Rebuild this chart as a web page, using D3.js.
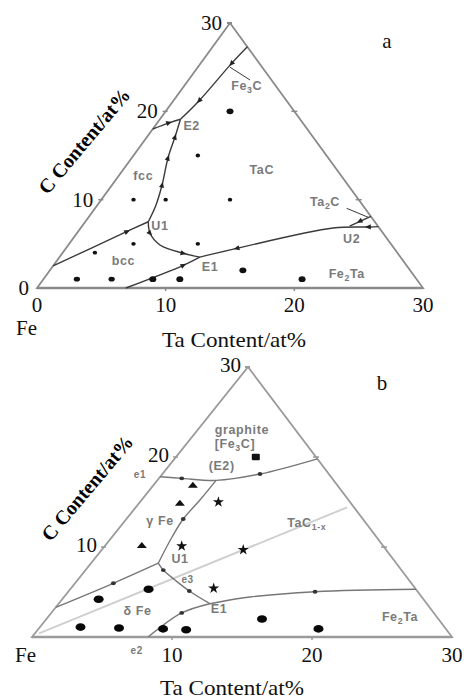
<!DOCTYPE html>
<html><head><meta charset="utf-8">
<script src="https://cdn.jsdelivr.net/npm/d3@7"></script>
<style>
html,body{margin:0;padding:0;background:#fff;}
svg{display:block;}
</style></head><body>
<svg id="chart" width="464" height="699"></svg>
<script>
// ================= DATA =================
const axisMax = 30;
const taTicksA = [0, 10, 20, 30];
const cTicksA = [0, 10, 20, 30];
const taTicksB = [10, 20, 30];
const cTicksB = [10, 20, 30];
const edgeTickValues = [10, 20];

// chart a: boundary curves, points are [Ta at%, C at%]
const curvesA = [
  [[0, 2.5], [3.8, 6.4], [4.9, 7.5]],
  [[4.9, 7.5], [4.55, 9.4], [3.89, 11.66], [2.82, 14.72], [2.18, 17.09], [1.6, 19.1]],
  [[0, 18], [0.9, 18.7], [1.6, 19.1]],
  [[1.6, 19.1], [2.0, 21.2], [2.41, 25.4], [2.7, 27.3]],
  [[4.9, 7.5], [5.69, 6.19], [7.12, 4.87], [9.4, 3.93], [10.9, 3.5]],
  [[6.9, 0], [10.09, 2.57], [10.9, 3.5]],
  [[10.9, 3.5], [13.28, 4.49], [19.63, 6.79], [22.43, 6.91], [23.05, 6.95]],
  [[20.8, 7.0], [21.9, 8.1]]
];
const leadersA = [
  [[2.5, 25.0], [4.78, 23.55]],
  [[19.56, 9.02], [21.75, 8.0]]
];
// arrows: [at, toward]
const arrowsA = [
  [[3.8, 6.4], [4.9, 7.5]],
  [[3.89, 11.66], [2.82, 14.72]],
  [[2.82, 14.72], [2.18, 17.09]],
  [[2.18, 17.09], [1.6, 19.1]],
  [[0.9, 18.7], [1.6, 19.1]],
  [[2.0, 21.2], [1.6, 19.1]],
  [[2.41, 25.4], [2.0, 21.2]],
  [[5.69, 6.19], [7.12, 4.87]],
  [[9.4, 3.93], [10.9, 3.5]],
  [[10.09, 2.57], [10.9, 3.5]],
  [[13.28, 4.49], [10.9, 3.5]],
  [[21.3, 7.55], [20.8, 7.0]],
  [[22.28, 6.92], [20.8, 6.9]]
];
// sample compositions, chart a
const samplesTaA = [2.6, 5.3, 8.5, 10.6, 20.1, 15, 2.5, 5, 10, 2.5, 5, 10, 5, 5];
const samplesCA  = [1, 1, 1, 1, 1, 2, 4, 5, 5, 10, 10, 10, 15, 20];
const samplesKindA = ['m', 'm', 'l', 'l', 'l', 'l', 's', 's', 's', 's', 's', 's', 's', 'l'];
const labelsA = [
  ['Fe{3}C', 4.86, 22.87], ['E2', 2.85, 18.34], ['fcc', 1.92, 12.68], ['TaC', 10.79, 13.36],
  ['U1', 6.03, 7.05], ['bcc', 5.18, 3.06], ['E1', 12.24, 2.41], ['Ta{2}C', 17.5, 9.77],
  ['U2', 21.64, 5.63], ['Fe{2}Ta', 23.24, 1.66]
];

// chart b
const curvesB = [
  [[0, 17.8], [1.63, 17.63], [4.2, 17.4], [6.97, 18.11], [10.2, 19.8]],
  [[4.2, 17.4], [4.17, 15.22], [4.06, 13.11], [4.29, 11.11], [4.8, 8.2]],
  [[0, 3.3], [2.74, 5.97], [4.8, 8.2]],
  [[4.8, 8.2], [5.55, 7.44], [6.96, 6.33], [8.61, 5.11], [10.8, 3.7]],
  [[8.3, 0], [9.32, 2.67], [10.8, 3.7]],
  [[10.8, 3.7], [13.29, 4.44], [17.63, 5.03], [24.7, 5.3]]
];
const tieLineB = [[0.3, 0.4], [15.1, 14.4]];
const lineDotsB = [[1.63, 17.63], [6.97, 18.11], [4.06, 13.11], [2.74, 5.97], [5.55, 7.44], [8.61, 5.11], [9.32, 2.67], [17.63, 5.03]];
const triSamplesB = [[2.8, 16.9], [2.9, 14.9], [2.6, 10.2]];
const starSamplesB = [[5.6, 15.0], [10.1, 9.7], [10.2, 5.4], [5.5, 10.1]];
const circleSamplesB = [[5.6, 5.3], [2.6, 4.2], [2.9, 1.1], [5.7, 1.0], [8.9, 0.9], [10.6, 0.8], [15.4, 2.0], [20, 0.9]];
const squareSamplesB = [[5.7, 20]];
const labelsB = [
  ['graphite', 3.11, 23.11], ['[Fe{3}C]', 3.43, 21.52], ['(E2)', 3.72, 19.11], ['e1', -1.64, 18.19],
  ['γ Fe', 2.46, 13], ['U1', 6.08, 8.74], ['e3', 7.76, 6.52], ['E1', 11.73, 3.17],
  ['δ Fe', 6.05, 2.89], ['TaC{1-x}', 13.09, 12.7], ['Fe{2}Ta', 25.1, 2.3], ['e2', 8.18, -1.37]
];
const axisTitleTa = 'Ta Content/at%';
const axisTitleC = 'C Content/at%';
const cornerLabel = 'Fe';

// ================= DRAWING =================
const svg = d3.select('#chart');
const serif = "'Liberation Serif','Times New Roman',Times,serif";
const sans = "'Liberation Sans',Arial,Helvetica,sans-serif";

function rich(sel, str) {
  const parts = str.split(/(\{[^}]*\})/).filter(s => s.length);
  let sub = false;
  parts.forEach(p => {
    if (p.startsWith('{')) {
      sel.append('tspan').attr('dy', 3).attr('font-size', '70%').text(p.slice(1, -1));
      sub = true;
    } else {
      const t = sel.append('tspan').text(p);
      if (sub) { t.attr('dy', -3); sub = false; }
    }
  });
}

function makeTernary(cfg) {
  const xT = d3.scaleLinear().domain([0, axisMax]).range([cfg.fe[0], cfg.right[0]]);
  const cY = d3.scaleLinear().domain([0, axisMax]).range([cfg.fe[1], cfg.apex[1]]);
  const cX = d3.scaleLinear().domain([0, axisMax]).range([0, cfg.apex[0] - cfg.fe[0]]);
  return d => [xT(d[0]) + cX(d[1]), cY(d[1])];
}

function drawChart(cfg) {
  const P = makeTernary(cfg);
  const g = svg.append('g');
  const line = d3.line().x(d => P(d)[0]).y(d => P(d)[1]);
  const curve = d3.line().x(d => P(d)[0]).y(d => P(d)[1]).curve(d3.curveCatmullRom.alpha(0.5));

  if (cfg.tie) {
    g.append('path').attr('d', line(cfg.tie)).attr('fill', 'none')
      .attr('stroke', '#cfcfcf').attr('stroke-width', 2);
  }

  g.append('path')
    .attr('d', line([[0, 0], [axisMax, 0], [0, axisMax]]) + 'Z')
    .attr('fill', 'none').attr('stroke', cfg.frameColor).attr('stroke-width', cfg.frameWidth)
    .attr('stroke-linejoin', 'miter');
  g.append('path').attr('d', line([[0, 0], [axisMax, 0]]))
    .attr('stroke', cfg.frameColor).attr('stroke-width', cfg.frameWidth + 0.6);

  edgeTickValues.forEach(v => {
    const b = P([v, 0]);
    g.append('line').attr('x1', b[0]).attr('x2', b[0]).attr('y1', b[1]).attr('y2', b[1] + 3)
      .attr('stroke', cfg.frameColor).attr('stroke-width', 1.5);
    const l = P([0, v]);
    g.append('line').attr('x1', l[0] - 3).attr('x2', l[0] + 2).attr('y1', l[1]).attr('y2', l[1])
      .attr('stroke', cfg.frameColor).attr('stroke-width', 1.5);
    const r = P([axisMax - v, v]);
    g.append('line').attr('x1', r[0] - 3).attr('x2', r[0] + 3).attr('y1', r[1]).attr('y2', r[1])
      .attr('stroke', cfg.frameColor).attr('stroke-width', 1.5);
  });
  const ap = P([0, axisMax]);
  g.append('line').attr('x1', ap[0] - 3).attr('x2', ap[0] + 2).attr('y1', ap[1]).attr('y2', ap[1])
    .attr('stroke', cfg.frameColor).attr('stroke-width', 2);

  cfg.curves.forEach(c => {
    g.append('path').attr('d', curve(c)).attr('fill', 'none')
      .attr('stroke', cfg.curveColor).attr('stroke-width', cfg.curveWidth);
  });
  (cfg.leaders || []).forEach(c => {
    g.append('path').attr('d', line(c)).attr('fill', 'none')
      .attr('stroke', cfg.curveColor).attr('stroke-width', 1);
  });

  (cfg.arrows || []).forEach(([a, b]) => {
    const p = P(a), q = P(b);
    const ang = Math.atan2(q[1] - p[1], q[0] - p[0]) * 180 / Math.PI;
    g.append('path').attr('d', 'M3.2,0 L-2.6,-2.6 L-2.6,2.6 Z')
      .attr('transform', `translate(${p[0]},${p[1]}) rotate(${ang})`).attr('fill', '#222');
  });
  (cfg.lineDots || []).forEach(d => {
    const p = P(d);
    g.append('ellipse').attr('cx', p[0]).attr('cy', p[1]).attr('rx', 2.4).attr('ry', 1.9).attr('fill', '#333');
  });

  if (cfg.samplesTa) {
    const rx = { s: 2.2, m: 3.1, l: 3.5 }, ry = { s: 1.9, m: 2.4, l: 2.9 };
    cfg.samplesTa.forEach((t, i) => {
      const p = P([t, cfg.samplesC[i]]);
      const k = cfg.samplesKind[i];
      g.append('ellipse').attr('cx', p[0]).attr('cy', p[1]).attr('rx', rx[k]).attr('ry', ry[k]).attr('fill', '#111');
    });
  }
  (cfg.circles || []).forEach(d => {
    const p = P(d);
    g.append('ellipse').attr('cx', p[0]).attr('cy', p[1]).attr('rx', 5).attr('ry', 3.8).attr('fill', '#080808');
  });
  (cfg.tris || []).forEach(d => {
    const p = P(d);
    g.append('path').attr('d', 'M-5,2.8 L5,2.8 L0,-3.2 Z')
      .attr('transform', `translate(${p[0]},${p[1]})`).attr('fill', '#111');
  });
  (cfg.stars || []).forEach(d => {
    const p = P(d);
    g.append('path').attr('d', d3.symbol().type(d3.symbolStar).size(38)())
      .attr('transform', `translate(${p[0]},${p[1]})`).attr('fill', '#111');
  });
  (cfg.squares || []).forEach(d => {
    const p = P(d);
    g.append('rect').attr('x', p[0] - 4).attr('y', p[1] - 3.2).attr('width', 8).attr('height', 6.4)
      .attr('rx', 1).attr('fill', '#111');
  });

  cfg.labels.forEach(([txt, t, c]) => {
    const p = P([t, c]);
    const small = (txt.length <= 2 && /^e/.test(txt));
    const el = g.append('text').attr('x', p[0]).attr('y', p[1] + 4.5)
      .attr('text-anchor', 'middle').attr('font-family', sans)
      .attr('font-size', small ? 10 : 12.5).attr('font-weight', 'bold')
      .attr('letter-spacing', 0.6)
      .attr('fill', '#7a7a7a');
    rich(el, txt);
  });

  cfg.bottomTicks.forEach(v => {
    const p = P([v, 0]);
    g.append('text').attr('x', p[0]).attr('y', p[1] + cfg.bottomDy).attr('text-anchor', 'middle')
      .attr('font-family', serif).attr('font-size', 21).attr('fill', '#111').text(v);
  });
  cfg.leftTicks.forEach(v => {
    const p = P([0, v]);
    g.append('text').attr('x', p[0] + cfg.leftDx).attr('y', p[1] + cfg.leftDy).attr('text-anchor', 'end')
      .attr('font-family', serif).attr('font-size', 21).attr('fill', '#111').text(v);
  });
  g.append('text').attr('x', cfg.feLabel[0]).attr('y', cfg.feLabel[1])
    .attr('font-family', serif).attr('font-size', 21).attr('fill', '#111').text(cornerLabel);
  g.append('text').attr('x', cfg.taTitle[0]).attr('y', cfg.taTitle[1]).attr('text-anchor', 'middle')
    .attr('font-family', serif).attr('font-size', 21).attr('fill', '#111')
    .attr('textLength', 144).attr('lengthAdjust', 'spacingAndGlyphs').text(axisTitleTa);
  g.append('text').attr('transform', `translate(${cfg.cTitle[0]},${cfg.cTitle[1]}) rotate(-50)`)
    .attr('text-anchor', 'middle').attr('dominant-baseline', 'central')
    .attr('font-family', serif).attr('font-size', 20).attr('font-weight', 'bold').attr('fill', '#000')
    .text(axisTitleC);
  g.append('text').attr('x', cfg.panel[1]).attr('y', cfg.panel[2]).attr('text-anchor', 'middle')
    .attr('font-family', serif).attr('font-size', 21).attr('fill', '#111').text(cfg.panel[0]);
}

drawChart({
  fe: [37, 288], right: [423, 288], apex: [230, 23],
  frameColor: '#8a8a8a', frameWidth: 1.8, curveColor: '#3a3a3a', curveWidth: 1.4,
  curves: curvesA, leaders: leadersA, arrows: arrowsA,
  samplesTa: samplesTaA, samplesC: samplesCA, samplesKind: samplesKindA,
  labels: labelsA,
  bottomTicks: taTicksA, leftTicks: cTicksA, bottomDy: 24, leftDx: -8, leftDy: 7,
  feLabel: [16, 335], taTitle: [234, 347], cTitle: [84, 141], panel: ['a', 387, 48]
});

drawChart({
  fe: [32, 637], right: [452, 637], apex: [248, 367],
  frameColor: '#9a9a9a', frameWidth: 1.8, curveColor: '#777', curveWidth: 1.4,
  tie: tieLineB, curves: curvesB, lineDots: lineDotsB,
  circles: circleSamplesB, tris: triSamplesB, stars: starSamplesB, squares: squareSamplesB,
  labels: labelsB,
  bottomTicks: taTicksB, leftTicks: cTicksB, bottomDy: 25, leftDx: -7, leftDy: 5,
  feLabel: [15, 662], taTitle: [232, 695], cTitle: [87, 488], panel: ['b', 382, 390]
});
</script>
</body></html>
